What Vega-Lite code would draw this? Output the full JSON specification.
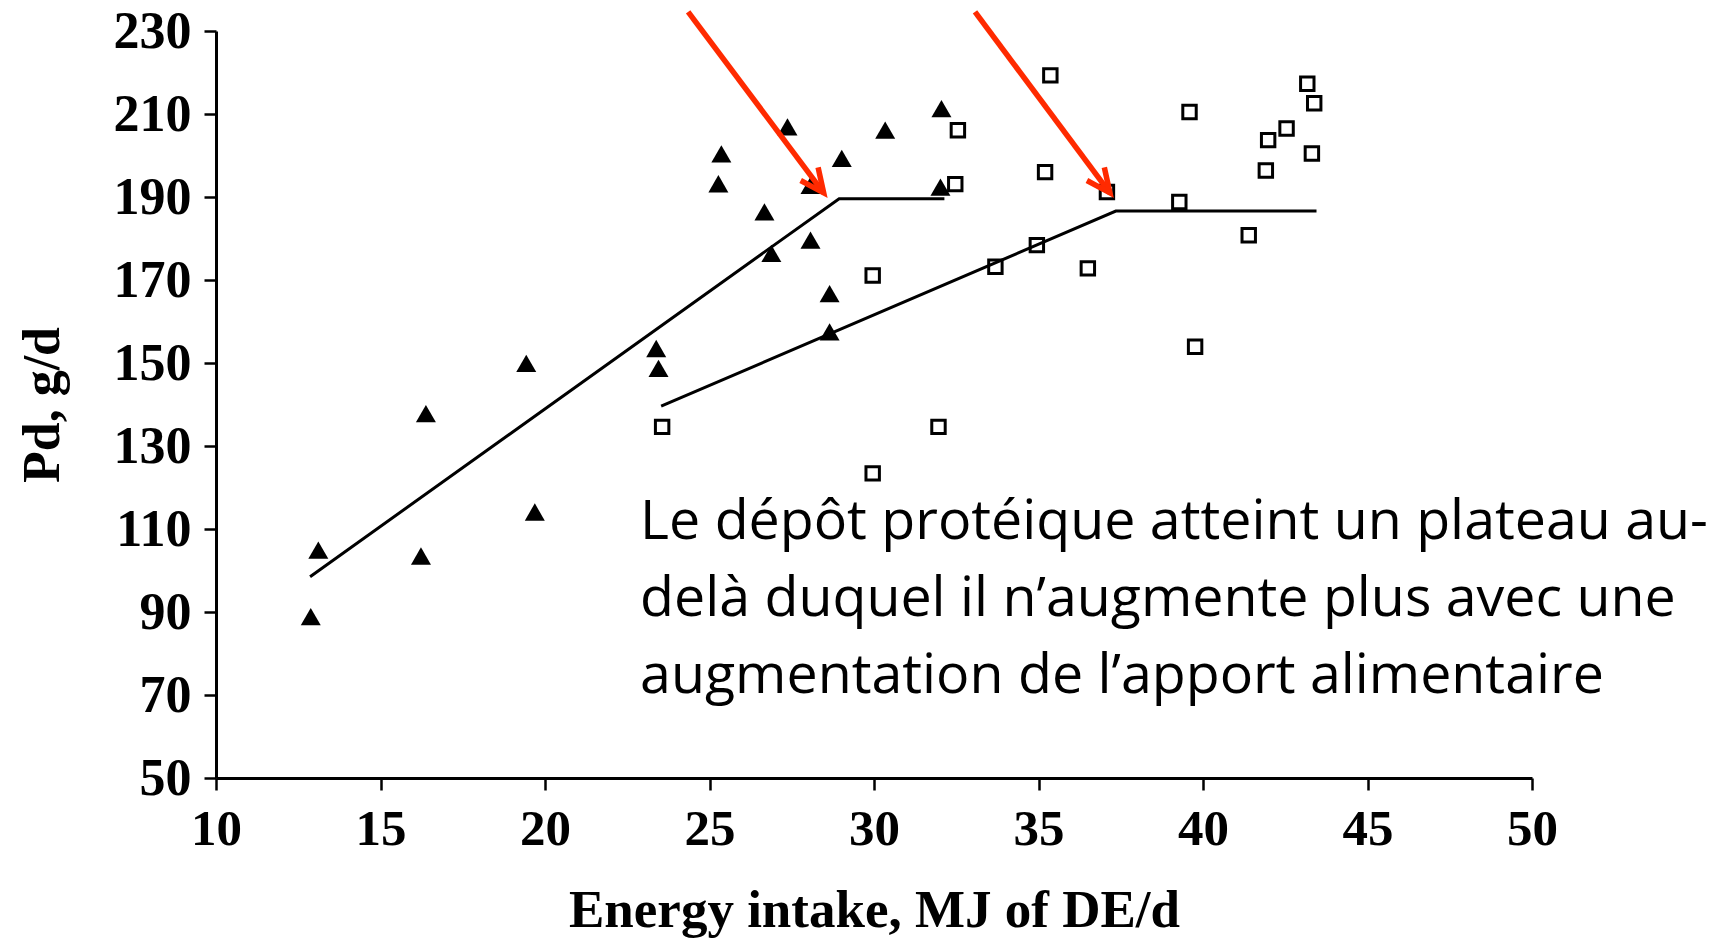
{
  "$schema": "https://vega.github.io/schema/vega-lite/v6.json",
  "width": 1316,
  "height": 747,
  "autosize": {"type": "none"},
  "padding": {"left": 216, "top": 31, "right": 192, "bottom": 160},
  "background": "white",
  "config": {
    "view": {"stroke": null},
    "axis": {"grid": false, "domainColor": "black", "tickColor": "black", "labelColor": "black", "titleColor": "black",
             "labelFont": "Liberation Serif", "titleFont": "Liberation Serif", "labelFontWeight": "bold", "titleFontWeight": "bold"}
  },
  "datasets": {
    "pts": [
      {"x": 12.88, "y": 88.9, "g": "A"},
      {"x": 13.11, "y": 104.9, "g": "A"},
      {"x": 16.23, "y": 103.5, "g": "A"},
      {"x": 16.38, "y": 137.8, "g": "A"},
      {"x": 19.43, "y": 149.9, "g": "A"},
      {"x": 19.69, "y": 114.1, "g": "A"},
      {"x": 23.38, "y": 153.5, "g": "A"},
      {"x": 23.45, "y": 148.7, "g": "A"},
      {"x": 25.36, "y": 200.4, "g": "A"},
      {"x": 25.27, "y": 193.2, "g": "A"},
      {"x": 26.67, "y": 186.4, "g": "A"},
      {"x": 26.88, "y": 176.4, "g": "A"},
      {"x": 27.37, "y": 206.9, "g": "A"},
      {"x": 28.07, "y": 192.8, "g": "A"},
      {"x": 28.07, "y": 179.6, "g": "A"},
      {"x": 28.65, "y": 166.7, "g": "A"},
      {"x": 28.65, "y": 157.5, "g": "A"},
      {"x": 29.02, "y": 199.3, "g": "A"},
      {"x": 30.34, "y": 206.1, "g": "A"},
      {"x": 32.05, "y": 211.3, "g": "A"},
      {"x": 32.02, "y": 192.4, "g": "A"},
      {"x": 23.56, "y": 134.6, "g": "B"},
      {"x": 29.96, "y": 171.1, "g": "B"},
      {"x": 29.96, "y": 123.4, "g": "B"},
      {"x": 31.96, "y": 134.6, "g": "B"},
      {"x": 32.55, "y": 206.1, "g": "B"},
      {"x": 32.47, "y": 193.1, "g": "B"},
      {"x": 33.69, "y": 173.2, "g": "B"},
      {"x": 34.95, "y": 178.4, "g": "B"},
      {"x": 35.36, "y": 219.3, "g": "B"},
      {"x": 35.2, "y": 196.0, "g": "B"},
      {"x": 36.5, "y": 172.8, "g": "B"},
      {"x": 37.08, "y": 191.2, "g": "B"},
      {"x": 39.28, "y": 188.8, "g": "B"},
      {"x": 39.59, "y": 210.5, "g": "B"},
      {"x": 39.76, "y": 153.9, "g": "B"},
      {"x": 41.39, "y": 180.8, "g": "B"},
      {"x": 41.91, "y": 196.4, "g": "B"},
      {"x": 41.98, "y": 203.7, "g": "B"},
      {"x": 42.54, "y": 206.5, "g": "B"},
      {"x": 43.17, "y": 217.3, "g": "B"},
      {"x": 43.38, "y": 212.6, "g": "B"},
      {"x": 43.31, "y": 200.5, "g": "B"}
    ],
    "fit": [
      {"x": 12.86, "y": 98.5, "g": "A"},
      {"x": 28.94, "y": 189.6, "g": "A"},
      {"x": 32.14, "y": 189.6, "g": "A"},
      {"x": 23.53, "y": 139.6, "g": "B"},
      {"x": 37.35, "y": 186.6, "g": "B"},
      {"x": 43.45, "y": 186.6, "g": "B"}
    ],
    "arrows": [
      {"x": 24.35, "y": 234.6, "x2": 28.47, "y2": 191.0},
      {"x": 33.07, "y": 234.6, "x2": 37.17, "y2": 191.0}
    ],
    "note": [
      {"x": 22.89, "y": 107.6, "label": "Le dépôt protéique atteint un plateau au-\ndelà duquel il n’augmente plus avec une\naugmentation de l’apport alimentaire"}
    ]
  },
  "layer": [
    {
      "data": {"name": "fit"},
      "mark": {"type": "line", "color": "black", "strokeWidth": 3},
      "encoding": {
        "x": {"field": "x", "type": "quantitative",
              "scale": {"domain": [10, 50], "nice": false, "zero": false},
              "axis": {"values": [10, 15, 20, 25, 30, 35, 40, 45, 50], "format": "d", "title": "Energy intake, MJ of DE/d",
                       "domainWidth": 3, "tickWidth": 2.5, "tickSize": 12, "labelFontSize": 51, "labelPadding": 14,
                       "labelFlush": false, "labelOverlap": false, "titleFontSize": 53,
                       "titleX": 658, "titleY": 148, "titleBaseline": "alphabetic", "titleAlign": "center"}},
        "y": {"field": "y", "type": "quantitative",
              "scale": {"domain": [50, 230], "nice": false, "zero": false},
              "axis": {"values": [50, 70, 90, 110, 130, 150, 170, 190, 210, 230], "format": "d", "title": "Pd, g/d",
                       "domainWidth": 3, "tickWidth": 2.5, "tickSize": 12, "labelFontSize": 52, "labelPadding": 13,
                       "labelFlush": false, "labelOverlap": false, "titleFontSize": 52,
                       "titleAngle": 270, "titleX": -158, "titleY": 373.5, "titleBaseline": "alphabetic", "titleAlign": "center"}},
        "detail": {"field": "g"}
      }
    },
    {
      "data": {"name": "pts"},
      "transform": [{"filter": "datum.g === 'A'"}],
      "mark": {"type": "point", "shape": "triangle-up", "filled": true, "color": "black", "size": 400, "opacity": 1},
      "encoding": {
        "x": {"field": "x", "type": "quantitative"},
        "y": {"field": "y", "type": "quantitative"}
      }
    },
    {
      "data": {"name": "pts"},
      "transform": [{"filter": "datum.g === 'B'"}],
      "mark": {"type": "point", "shape": "square", "filled": false, "stroke": "black", "strokeWidth": 3, "size": 180, "opacity": 1},
      "encoding": {
        "x": {"field": "x", "type": "quantitative"},
        "y": {"field": "y", "type": "quantitative"}
      }
    },
    {
      "data": {"name": "arrows"},
      "mark": {"type": "rule", "color": "#FF2A00", "strokeWidth": 5.5},
      "encoding": {
        "x": {"field": "x", "type": "quantitative"},
        "y": {"field": "y", "type": "quantitative"},
        "x2": {"field": "x2"},
        "y2": {"field": "y2"}
      }
    },
    {
      "data": {"name": "arrows"},
      "mark": {"type": "point", "shape": "M-0.46,-1L0,0L0.46,-1", "filled": false, "stroke": "#FF2A00", "strokeWidth": 5.5,
               "size": 2250, "angle": -37, "opacity": 1, "strokeJoin": "miter"},
      "encoding": {
        "x": {"field": "x2", "type": "quantitative"},
        "y": {"field": "y2", "type": "quantitative"}
      }
    },
    {
      "data": {"name": "note"},
      "mark": {"type": "text", "align": "left", "baseline": "alphabetic", "font": "Open Sans", "fontSize": 55.5, "lineHeight": 77,
               "lineBreak": "\n", "color": "black"},
      "encoding": {
        "x": {"field": "x", "type": "quantitative"},
        "y": {"field": "y", "type": "quantitative"},
        "text": {"field": "label"}
      }
    }
  ]
}
